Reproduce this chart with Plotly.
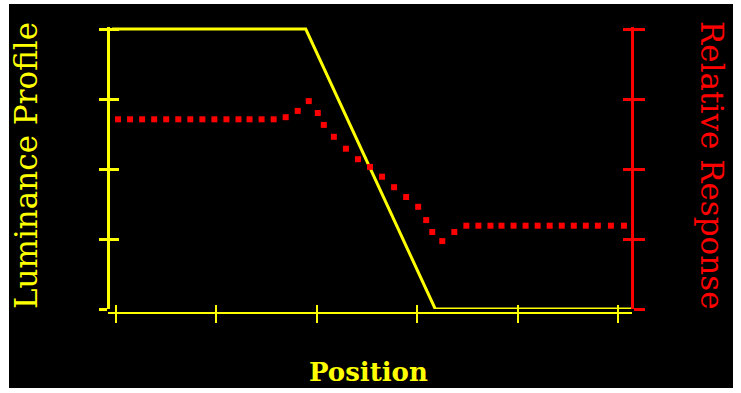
import plotly.graph_objects as go

# ---- data ----
pos_ticks = [0, 10, 20, 30, 40, 50]
level_ticks = [0, 1, 2, 3, 4]

lum_x = [-0.4, 18.9, 31.8, 51.4]
lum_y = [4, 4, 0, 0]

resp_x = [0.2, 1.4, 2.6, 3.8, 5.0, 6.2, 7.4, 8.6, 9.8, 11.0, 12.2, 13.3, 14.5, 15.7,
          16.9, 18.1, 19.2, 20.1, 20.7, 21.7, 22.9, 24.1, 25.3, 26.5, 27.7, 28.9, 30.1,
          30.9, 31.5, 32.5, 33.7,
          34.9, 36.1, 37.3, 38.4, 39.6, 40.8, 42.0, 43.2, 44.4, 45.6, 46.8, 48.0, 49.3, 50.6]
resp_y = [2.71] * 14 + [2.74, 2.83, 2.97, 2.80, 2.63, 2.46, 2.29, 2.14, 2.03, 1.89,
                        1.74, 1.60, 1.46, 1.27, 1.10, 0.97, 1.10] + [1.19] * 14

YEL = "#FFFF00"
RED = "#FF0000"
FONT = "DejaVu Serif"

W, H = 741, 393
ML, MR, MT, MB = 108, 109, 27, 80
PW, PH = W - ML - MR, H - MT - MB

def px_x(p):
    return (p - ML) / PW

def px_y(p):
    return (H - MB - p) / PH

xr = [-0.8, 51.4]
# 0 sits at pixel 309, 4 at pixel 29 (70 px per unit); plot top at pixel 27
yr = [0, 4 + 2 / 70]
ydom = [4 / PH, 1]

fig = go.Figure()
fig.add_trace(go.Scatter(x=lum_x, y=lum_y, mode="lines", cliponaxis=False,
                         line=dict(color=YEL, width=3), xaxis="x", yaxis="y",
                         showlegend=False, hoverinfo="skip"))
fig.add_trace(go.Scatter(x=resp_x, y=resp_y, mode="markers", cliponaxis=False,
                         marker=dict(color=RED, symbol="square", size=6, line=dict(width=0)),
                         xaxis="x", yaxis="y2", showlegend=False, hoverinfo="skip"))
# empty helper traces so the overlaid "inside" tick axes get drawn (crossing ticks)
for ya in ["y3", "y4"]:
    fig.add_trace(go.Scatter(x=[], y=[], mode="lines", xaxis="x2", yaxis=ya,
                             showlegend=False, hoverinfo="skip"))

common = dict(showgrid=False, zeroline=False, showticklabels=False, fixedrange=True)

fig.update_layout(
    width=W, height=H,
    margin=dict(l=ML, r=MR, t=MT, b=MB, pad=0),
    paper_bgcolor="white", plot_bgcolor="black",
    xaxis=dict(range=xr, tickvals=pos_ticks, ticks="outside", ticklen=9, tickwidth=2,
               tickcolor=YEL, showline=True, linecolor=YEL, linewidth=2,
               anchor="free", position=0, **common),
    xaxis2=dict(range=xr, tickvals=pos_ticks, ticks="inside", ticklen=8, tickwidth=2,
                tickcolor=YEL, showline=False, overlaying="x", anchor="free",
                position=0, side="bottom", **common),
    yaxis=dict(range=yr, domain=ydom, tickvals=level_ticks, ticks="outside", ticklen=8,
               tickwidth=3, tickcolor=YEL, showline=True, linecolor=YEL, linewidth=3,
               anchor="free", position=0, side="left", **common),
    yaxis3=dict(range=yr, tickvals=level_ticks, ticks="inside", ticklen=10, tickwidth=3,
                tickcolor=YEL, showline=False, overlaying="y", anchor="free",
                position=0, side="left", **common),
    yaxis2=dict(range=yr, tickvals=level_ticks, ticks="outside", ticklen=11, tickwidth=3,
                tickcolor=RED, showline=True, linecolor=RED, linewidth=3,
                overlaying="y", anchor="free", position=1, side="right", **common),
    yaxis4=dict(range=yr, tickvals=level_ticks, ticks="inside", ticklen=9, tickwidth=3,
                tickcolor=RED, showline=False, overlaying="y", anchor="free",
                position=1, side="right", **common),
    shapes=[dict(type="rect", xref="paper", yref="paper",
                 x0=px_x(9), x1=px_x(733), y0=px_y(388), y1=px_y(4),
                 fillcolor="black", line=dict(width=0), layer="below")],
    annotations=[
        dict(text="Luminance Profile", xref="paper", yref="paper", x=px_x(26), y=px_y(166),
             textangle=-90, showarrow=False, xanchor="center", yanchor="middle",
             font=dict(family=FONT, size=31, color=YEL)),
        dict(text="Relative Response", xref="paper", yref="paper", x=px_x(712), y=px_y(165),
             textangle=90, showarrow=False, xanchor="center", yanchor="middle",
             font=dict(family=FONT, size=31, color=RED)),
        dict(text="<b>Position</b>", xref="paper", yref="paper", x=px_x(368), y=px_y(372),
             showarrow=False, xanchor="center", yanchor="middle",
             font=dict(family=FONT, size=26, color=YEL)),
    ],
)

fig.write_html("out.html", config={"displayModeBar": False},
               post_script="document.body.style.margin='0';document.body.style.padding='0';")
